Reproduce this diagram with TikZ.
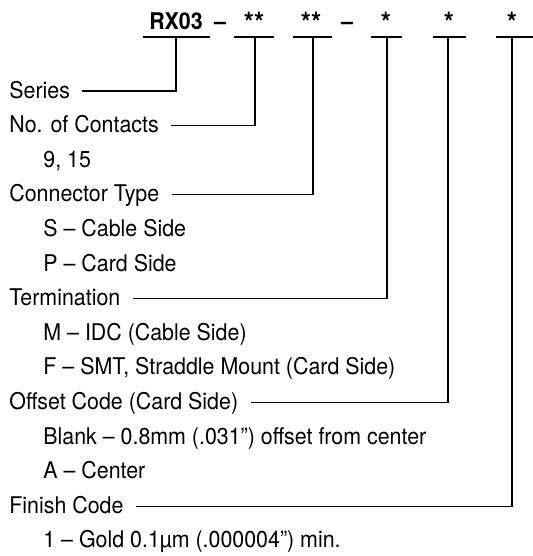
\documentclass[tikz,border=0pt]{standalone}
\usepackage{fontspec}
\setmainfont[FakeStretch=0.93]{TeX Gyre Heros}
\begin{document}
\begin{tikzpicture}[x=0.5pt,y=-0.5pt,
    code/.style={anchor=base,inner sep=0pt,font=\fontsize{11.5}{13}\selectfont\bfseries},
    star/.style={code,font=\fontsize{14}{16}\selectfont\bfseries},
    lbl/.style={anchor=base west,inner sep=0pt,font=\fontsize{11.5}{13}\selectfont},
    uline/.style={line width=1.3pt},
    conn/.style={line width=0.6pt}]

  \useasboundingbox (0,0) rectangle (533,556);

  % part number
  \node[code] (rx) at (176,30) {RX03};
  \node[code] (dA) at (220,30) {--};
  \node[star] (nc) at (254,33) {**};
  \node[star] (ct) at (311,33) {**};
  \node[code] (dB) at (347,30) {--};
  \node[star] (tm) at (386,33) {*};
  \node[star] (of) at (449,33) {*};
  \node[star] (fn) at (512,33) {*};

  % underlines
  \foreach \a/\b/\m [count=\i] in {143/210/176, 234/274/255, 293/332/313,
                                     371/402/387, 433/466/448, 496/533/512}{
    \draw[uline] (\a,37) -- (\b,37);
    \coordinate (u\i) at (\m,37);
  }

  % labels
  \node[lbl] (ser)    at (9,98)    {Series};
  \node[lbl] (noc)    at (9,132.6) {No. of Contacts};
  \node[lbl] (noc1)   at (43,167.2) {9, 15};
  \node[lbl] (ctype)  at (9,201.8) {Connector Type};
  \node[lbl] (ctype1) at (43,236.4) {S -- Cable Side};
  \node[lbl] (ctype2) at (43,271)  {P -- Card Side};
  \node[lbl] (term)   at (9,305.6) {Termination};
  \node[lbl] (term1)  at (43,340.2) {M -- IDC (Cable Side)};
  \node[lbl] (term2)  at (43,374.8) {F -- SMT, Straddle Mount (Card Side)};
  \node[lbl] (offs)   at (9,409.4) {Offset Code (Card Side)};
  \node[lbl] (offs1)  at (43,444)  {Blank -- 0.8mm (.031\symbol{34}) offset from center};
  \node[lbl] (offs2)  at (43,478.6) {A -- Center};
  \node[lbl] (fin)    at (9,513.2) {Finish Code};
  \node[lbl] (fin1)   at (43,547.8) {1 -- Gold 0.1µm (.000004\symbol{34}) min.};

  % leaders
  \draw[conn] ([xshift=6pt,yshift=3.5pt]ser.base east) -| (u1);
  \draw[conn] ([xshift=6pt,yshift=3.5pt]noc.base east) -| (u2);
  \draw[conn] ([xshift=6pt,yshift=3.5pt]ctype.base east) -| (u3);
  \draw[conn] ([xshift=6pt,yshift=3.5pt]term.base east) -| (u4);
  \draw[conn] ([xshift=6pt,yshift=3.5pt]offs.base east) -| (u5);
  \draw[conn] ([xshift=6pt,yshift=3.5pt]fin.base east) -| (u6);

\end{tikzpicture}
\end{document}
